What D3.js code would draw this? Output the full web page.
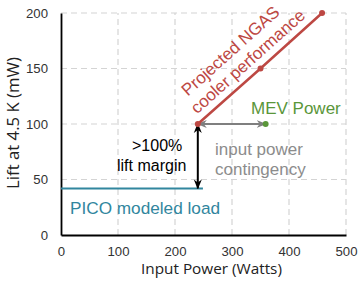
<!DOCTYPE html>
<html><head><meta charset="utf-8">
<script src="https://cdn.jsdelivr.net/npm/d3@7"></script>
<style>body{margin:0;background:#fff}svg{display:block}</style>
</head><body>
<svg id="c" width="360" height="282"></svg>
<script>
const xTicks = [0, 100, 200, 300, 400, 500];
const yTicks = [0, 50, 100, 150, 200];
const ngasX = [240, 350, 458];
const ngasY = [100, 150, 200];
const picoX = [0, 249];
const picoY = [42, 42];
const mevX = [240, 359];
const mevY = [100, 100];
const marginX = [240, 240];
const marginY = [100, 42];

const svg = d3.select("#c");
const m = {l: 61, r: 14, t: 13, b: 47};
const W = 360, H = 282;
const x = d3.scaleLinear().domain([0, 500]).range([m.l, W - m.r]);
const y = d3.scaleLinear().domain([0, 200]).range([H - m.b, m.t]);

const RED = "#bd4843", TEAL = "#31869e", GREEN = "#5a963a", GRAY = "#7f7f7f";
const ff = "Liberation Sans, Arial, sans-serif";
const ffT = "Open Sans, sans-serif";

function fit(sel, target) {
  const fs = +sel.attr("font-size");
  const w = sel.node().getComputedTextLength();
  sel.attr("font-size", fs * target / w);
  return sel;
}

const defs = svg.append("defs");
function marker(id, color) {
  defs.append("marker").attr("id", id).attr("viewBox", "0 0 10 10")
    .attr("refX", 9).attr("refY", 5)
    .attr("orient", "auto-start-reverse").attr("markerUnits", "userSpaceOnUse")
    .attr("markerWidth", 10).attr("markerHeight", 10)
    .append("path").attr("d", "M0,1 L10,5 L0,9 L3,5 Z").attr("fill", color);
}
marker("ab", "#000");
marker("ag", GRAY);

// grid
svg.append("g").selectAll("line").data(xTicks.filter(d => d > 0)).join("line")
  .attr("x1", d => x(d)).attr("x2", d => x(d)).attr("y1", y(0)).attr("y2", y(200))
  .attr("stroke", "#d4d4d4").attr("stroke-width", 1.2).attr("stroke-dasharray", "6,4");
svg.append("g").selectAll("line").data(yTicks.filter(d => d > 0)).join("line")
  .attr("y1", d => y(d)).attr("y2", d => y(d)).attr("x1", x(0)).attr("x2", x(500))
  .attr("stroke", "#d4d4d4").attr("stroke-width", 1.2).attr("stroke-dasharray", "6,4");

// axes
const xa = svg.append("g").attr("transform", `translate(0,${y(0)})`)
  .call(d3.axisBottom(x).tickValues(xTicks).tickSize(0).tickPadding(12));
const ya = svg.append("g").attr("transform", `translate(${x(0)},0)`)
  .call(d3.axisLeft(y).tickValues(yTicks).tickSize(0).tickPadding(13));
[xa, ya].forEach(a => {
  a.select(".domain").attr("stroke", "#000").attr("stroke-width", 1.8);
  a.selectAll("text").attr("font-family", ff).attr("font-size", 13.2).attr("fill", "#333");
});

fit(svg.append("text").attr("x", 211.5).attr("y", 274)
  .attr("text-anchor", "middle").attr("font-family", ffT)
  .attr("font-size", 14).attr("fill", "#222").text("Input Power (Watts)"), 141);
fit(svg.append("text").attr("transform", `translate(19,123) rotate(-90)`)
  .attr("text-anchor", "middle").attr("font-family", ffT)
  .attr("font-size", 14).attr("fill", "#222").text("Lift at 4.5 K (mW)"), 132);

// PICO line
const line = d3.line().x(d => x(d[0])).y(d => y(d[1]));
svg.append("path").datum(d3.zip(picoX, picoY)).attr("d", line)
  .attr("stroke", TEAL).attr("stroke-width", 2).attr("fill", "none");

// MEV arrow
svg.append("path").datum(d3.zip(mevX, mevY)).attr("d", line)
  .attr("stroke", GRAY).attr("stroke-width", 2).attr("fill", "none")
  .attr("marker-start", "url(#ag)").attr("marker-end", "url(#ag)");
svg.append("circle").attr("cx", x(mevX[1])).attr("cy", y(mevY[1])).attr("r", 3).attr("fill", GREEN);

// margin arrow
svg.append("path").datum(d3.zip(marginX, marginY)).attr("d", line)
  .attr("stroke", "#000").attr("stroke-width", 2).attr("fill", "none")
  .attr("marker-start", "url(#ab)").attr("marker-end", "url(#ab)");

// NGAS line
svg.append("path").datum(d3.zip(ngasX, ngasY)).attr("d", line)
  .attr("stroke", RED).attr("stroke-width", 2.5).attr("fill", "none");
svg.append("g").selectAll("circle").data(d3.zip(ngasX, ngasY)).join("circle")
  .attr("cx", d => x(d[0])).attr("cy", d => y(d[1])).attr("r", 3).attr("fill", RED);

// labels
const ang = Math.atan2(y(200) - y(100), x(458) - x(240)) * 180 / Math.PI;
const g = svg.append("g").attr("transform", `translate(${x(240)},${y(100)}) rotate(${ang})`);
g.append("text").attr("x", 73).attr("y", -27).attr("text-anchor", "middle")
  .attr("font-family", ff).attr("font-size", 17).attr("fill", RED).text("Projected NGAS");
g.append("text").attr("x", 79).attr("y", -7.5).attr("text-anchor", "middle")
  .attr("font-family", ff).attr("font-size", 17).attr("fill", RED).text("cooler performance");

svg.append("text").attr("x", 251).attr("y", 114).attr("font-family", ff).attr("font-size", 17)
  .attr("fill", GREEN).text("MEV Power");
svg.append("text").attr("x", 132).attr("y", 151).attr("font-family", ff)
  .attr("font-size", 16).attr("fill", "#000").text(">100%");
svg.append("text").attr("x", 117).attr("y", 171).attr("font-family", ff)
  .attr("font-size", 16).attr("fill", "#000").text("lift margin");
svg.append("text").attr("x", 215).attr("y", 155).attr("font-family", ff).attr("font-size", 17)
  .attr("fill", "#8c8c8c").text("input power");
svg.append("text").attr("x", 215).attr("y", 175).attr("font-family", ff).attr("font-size", 17)
  .attr("fill", "#8c8c8c").text("contingency");
svg.append("text").attr("x", 70).attr("y", 214).attr("font-family", ff).attr("font-size", 17.2)
  .attr("fill", TEAL).text("PICO modeled load");
</script>
</body></html>
